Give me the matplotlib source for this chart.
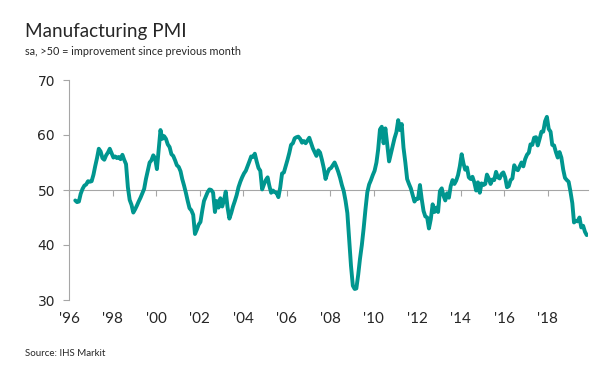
import matplotlib
matplotlib.use('Agg')
import matplotlib.pyplot as plt
import numpy as np
import pandas as pd

# Monthly PMI readings, Apr 1996 - Oct 2019
pmi_1996 = [48.1, 47.8, 47.9, 49.3, 50.2, 50.8, 51.0, 51.6, 51.5]
pmi_1997 = [51.6, 52.8, 54.3, 55.8, 57.5, 57.0, 55.8, 55.5, 56.3, 56.8, 57.5, 56.7]
pmi_1998 = [55.9, 56.1, 55.8, 56.0, 55.6, 56.4, 55.5, 54.7, 50.5, 48.2, 47.3, 45.9]
pmi_1999 = [46.5, 47.2, 47.9, 48.6, 49.4, 50.2, 52.0, 53.5, 55.0, 55.4, 56.3, 55.8]
pmi_2000 = [53.8, 57.5, 60.9, 59.3, 59.8, 59.3, 58.3, 57.8, 56.5, 56.2, 55.4, 54.5]
pmi_2001 = [54.2, 53.4, 52.0, 50.8, 49.5, 48.0, 46.7, 46.3, 45.5, 42.0, 42.8, 43.7]
pmi_2002 = [44.2, 46.3, 48.0, 48.8, 49.6, 50.1, 50.0, 49.5, 46.0, 48.0, 46.8, 48.5]
pmi_2003 = [47.0, 48.2, 49.7, 46.8, 44.8, 45.8, 47.0, 48.0, 49.1, 50.5, 51.5, 52.3]
pmi_2004 = [53.0, 53.5, 54.3, 55.2, 56.1, 56.0, 56.6, 55.2, 54.0, 53.5, 50.1, 51.0]
pmi_2005 = [51.8, 52.3, 50.8, 49.5, 49.9, 49.6, 49.5, 48.7, 50.5, 53.0, 53.2, 54.3]
pmi_2006 = [55.5, 56.8, 58.2, 58.5, 59.4, 59.6, 59.7, 59.3, 58.6, 58.9, 58.5, 59.0]
pmi_2007 = [59.5, 58.5, 57.6, 56.9, 56.2, 57.2, 56.8, 55.5, 54.0, 52.0, 53.1, 53.8]
pmi_2008 = [54.0, 54.5, 55.0, 54.2, 53.3, 52.2, 50.9, 49.8, 48.0, 45.8, 41.0, 36.2]
pmi_2009 = [32.6, 32.0, 32.1, 34.6, 37.5, 40.0, 43.0, 46.5, 49.6, 51.0, 51.8, 52.7]
pmi_2010 = [53.5, 55.0, 57.3, 61.0, 61.5, 58.5, 61.2, 58.3, 55.2, 56.6, 58.1, 59.4]
pmi_2011 = [60.5, 62.7, 60.9, 62.0, 57.7, 55.0, 52.0, 51.1, 50.3, 49.1, 47.9, 48.4]
pmi_2012 = [48.4, 50.9, 48.4, 46.2, 45.2, 45.0, 43.0, 44.7, 47.4, 46.0, 46.8, 46.0]
pmi_2013 = [49.8, 50.3, 49.0, 48.1, 49.4, 48.6, 50.7, 51.8, 51.1, 51.7, 52.7, 54.3]
pmi_2014 = [56.5, 54.8, 53.7, 54.1, 52.3, 52.0, 52.4, 51.4, 49.9, 51.4, 49.5, 51.2]
pmi_2015 = [50.9, 51.1, 52.8, 52.1, 51.1, 51.9, 51.8, 53.3, 52.3, 52.1, 52.9, 53.2]
pmi_2016 = [52.3, 50.5, 50.7, 51.8, 52.1, 54.5, 53.8, 53.6, 54.3, 55.0, 54.3, 55.6]
pmi_2017 = [56.4, 56.8, 58.3, 58.2, 59.5, 59.6, 58.1, 59.3, 60.6, 60.6, 62.5, 63.3]
pmi_2018 = [61.1, 60.6, 58.2, 58.1, 56.9, 55.9, 56.9, 55.9, 53.7, 52.2, 51.8, 51.5]
pmi_2019 = [49.7, 47.6, 44.1, 44.4, 44.3, 45.0, 43.2, 43.5, 42.4, 41.8]

pmi = (pmi_1996 + pmi_1997 + pmi_1998 + pmi_1999 + pmi_2000 + pmi_2001 + pmi_2002
       + pmi_2003 + pmi_2004 + pmi_2005 + pmi_2006 + pmi_2007 + pmi_2008 + pmi_2009
       + pmi_2010 + pmi_2011 + pmi_2012 + pmi_2013 + pmi_2014 + pmi_2015 + pmi_2016
       + pmi_2017 + pmi_2018 + pmi_2019)
dates = pd.date_range('1996-04-01', periods=len(pmi), freq='MS') + pd.Timedelta(days=14)

tick_years = list(range(1996, 2019, 2))
tick_labels = ["'%02d" % (y % 100) for y in tick_years]
y_ticks = [30, 40, 50, 60, 70]

line_color = '#00968f'
axis_color = '#a6a6a6'
text_color = '#262626'

fig = plt.figure(figsize=(6.16, 3.69), dpi=100)
ax = fig.add_axes([69 / 616, 1 - 300 / 369, (588 - 69) / 616, 220 / 369])

ax.plot(dates, pmi, color=line_color, linewidth=2.8, solid_joinstyle='round',
        solid_capstyle='round', zorder=3)

ax.set_xlim(pd.Timestamp('1996-01-01'), pd.Timestamp('2019-11-05'))
ax.set_ylim(30, 70)

# x axis sits on the 50 line
ax.spines['bottom'].set_position(('data', 50))
ax.spines['bottom'].set_color(axis_color)
ax.spines['left'].set_color(axis_color)
ax.spines['top'].set_visible(False)
ax.spines['right'].set_visible(False)

tick_dates = [pd.Timestamp('%d-01-01' % y) for y in tick_years]
ax.set_xticks(tick_dates)
ax.tick_params(axis='x', direction='out', length=4, color=axis_color, labelbottom=False)
ax.set_yticks(y_ticks)
ax.tick_params(axis='y', direction='out', length=4, color=axis_color,
               labelsize=10, labelcolor=text_color, pad=6)
for lab in ax.get_yticklabels():
    lab.set_fontfamily('DejaVu Sans')

# year labels along the bottom of the plot
sec = ax.secondary_xaxis(-0.04)
sec.set_xticks(tick_dates)
sec.set_xticklabels(tick_labels, fontfamily='Lato', fontsize=11, color=text_color)
sec.tick_params(length=0, pad=2)
sec.spines['bottom'].set_visible(False)

fig.text(25 / 616, 1 - 37 / 369, 'Manufacturing PMI', fontfamily='Lato', fontsize=13.6,
         color=text_color, va='baseline', ha='left')
fig.text(25 / 616, 1 - 55 / 369, 'sa, >50 = improvement since previous month',
         fontfamily='Lato', fontsize=7.8, color=text_color, va='baseline', ha='left')
fig.text(25 / 616, 1 - 356 / 369, 'Source: IHS Markit', fontfamily='Lato', fontsize=7,
         color=text_color, va='baseline', ha='left')

fig.savefig('out.png', dpi=100)
